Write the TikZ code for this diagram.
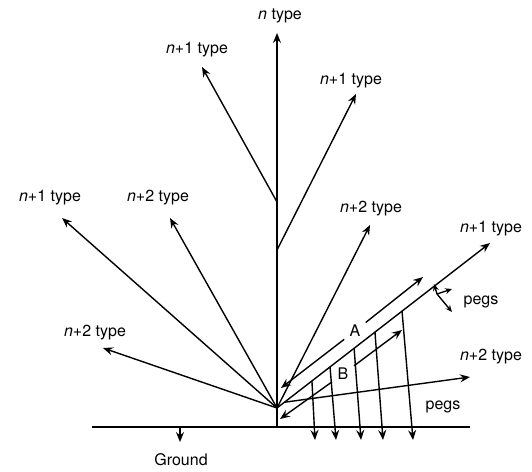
\documentclass[tikz,border=0pt]{standalone}
\usepackage{fontspec}
\setmainfont{TeX Gyre Heros}
\usetikzlibrary{arrows.meta,calc}
\begin{document}
\begin{tikzpicture}[x=1pt, y=-1pt, line width=1.4pt,
    vec/.style={-{Stealth[length=10pt,width=8pt,inset=3.5pt]}},
    svec/.style={-{Stealth[length=7pt,width=6pt,inset=2.5pt]}},
    lbl/.style={font=\fontsize{16}{18}\selectfont, inner sep=0pt},
    gap/.style={lbl, circle, minimum size=26pt}]
    \useasboundingbox (0,0) rectangle (532,471);

    % 地面
    \coordinate (gl) at (92,427);
    \coordinate (gr) at (470,427);
    \draw (gl) -- (gr);
    \coordinate (g0) at (180,427);
    \coordinate (g1) at (180,442);
    \draw[vec] (g0) -- (g1);
    \node[lbl] (ground) at (181,460) {Ground};

    % 主干与分叉点
    \coordinate (base) at (277,427);
    \coordinate (j1) at (277,202);
    \coordinate (j2) at (277,250);
    \coordinate (j3) at (277,408);

    % 箭头端点
    \coordinate (tN) at (277,33);
    \coordinate (tA) at (202,67);
    \coordinate (tB) at (356,94);
    \coordinate (tC) at (62,218);
    \coordinate (tD) at (170,218);
    \coordinate (tE) at (103,348);
    \coordinate (tF) at (370,225);
    \coordinate (tG) at (490,243);
    \coordinate (tH) at (470,377);

    \draw[vec] (base) -- (tN);
        \node[lbl] (lN) at (280,16) {\textit{n} type};
    \draw[vec] (j1) -- (tA);
        \node[lbl] (lA) at (197,50) {\textit{n}+1 type};
    \draw[vec] (j2) -- (tB);
        \node[lbl] (lB) at (351,81) {\textit{n}+1 type};
    \draw[vec] (j3) -- (tC);
        \node[lbl] (lC) at (50,198) {\textit{n}+1 type};
    \draw[vec] (j3) -- (tD);
        \node[lbl] (lD) at (158,198) {\textit{n}+2 type};
    \draw[vec] (j3) -- (tE);
        \node[lbl] (lE) at (95,333) {\textit{n}+2 type};
    \draw[vec] (j3) -- (tF);
        \node[lbl] (lF) at (371,209) {\textit{n}+2 type};
    \draw[vec] (j3) -- (tG);
        \node[lbl] (lG) at (491,229) {\textit{n}+1 type};
    \draw[vec] ($(j3)!0.035!(tG)$) -- (tH);
        \node[lbl] (lH) at (491,357) {\textit{n}+2 type};

    % 平行双箭头 A, B
    \coordinate (aLo) at (281,388);
    \coordinate (aHi) at (423,277);
    \node[gap] (A) at (355,331) {A};
    \draw[vec] (A) -- (aLo);
    \draw[vec] (A) -- (aHi);
    \coordinate (bLo) at (280,419);
    \coordinate (bHi) at (402,330);
    \node[gap] (B) at (343,374) {B};
    \draw[vec] (B) -- (bLo);
    \draw[vec] (B) -- (bHi);

    % 钉子
    \foreach \t/\xb in {0.164/315, 0.249/336, 0.362/361, 0.46/383, 0.587/413}
        \draw[vec] ($(j3)!\t!(tG)$) -- (\xb,440);
    \coordinate (p0) at (437,294);
    \draw[svec] (p0) -- (452,289);
    \draw[svec] (p0) -- (452,312);
    \draw[svec] (p0) -- (434,284);
    \node[lbl] (pegsA) at (481,302) {pegs};
    \node[lbl] (pegsB) at (443,407) {pegs};
\end{tikzpicture}
\end{document}
